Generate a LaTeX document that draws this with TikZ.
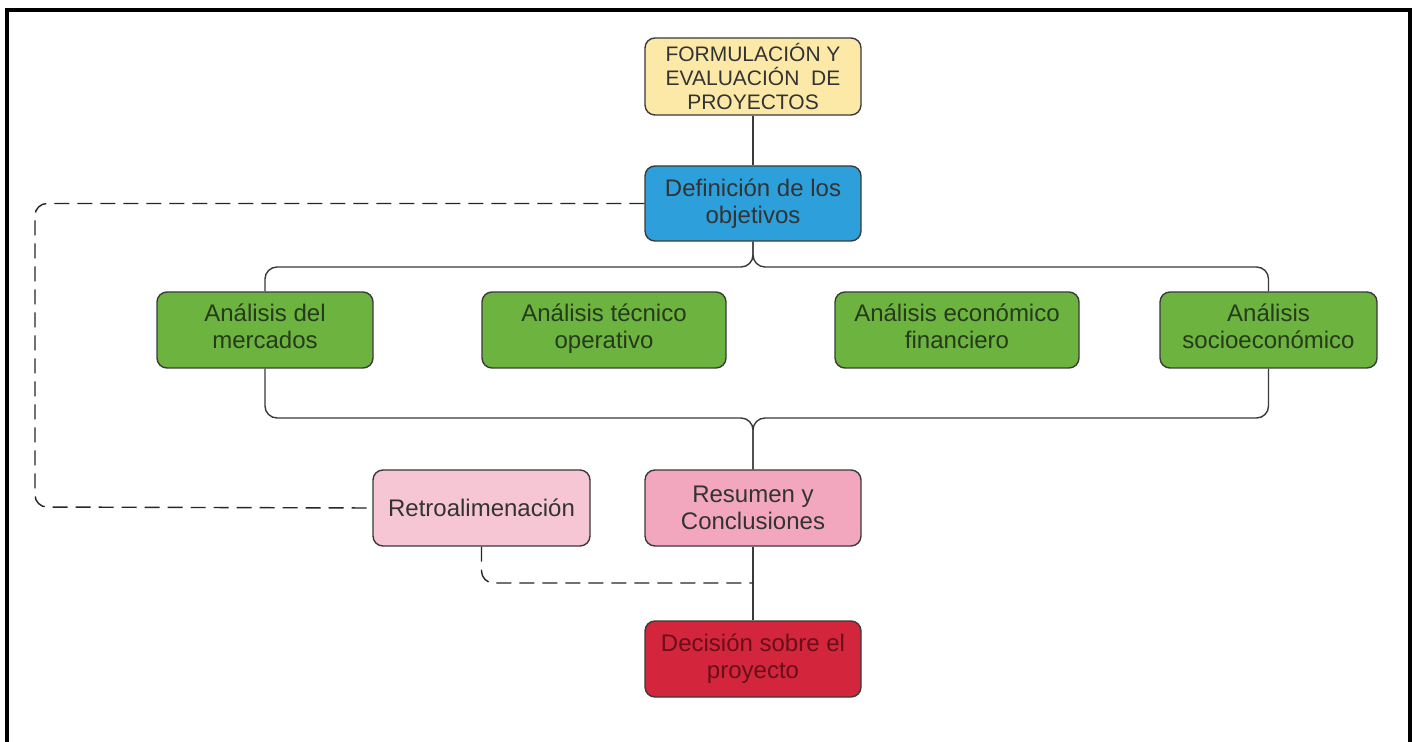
\documentclass[tikz,border=0pt]{standalone}
\usepackage{fontspec}
\setmainfont{Liberation Sans}
\definecolor{cyellow}{HTML}{FCE9A8}
\definecolor{cblue}{HTML}{2D9FDA}
\definecolor{cgreen}{HTML}{6CB33F}
\definecolor{clpink}{HTML}{F7C6D4}
\definecolor{cpink}{HTML}{F2A7BF}
\definecolor{cred}{HTML}{D3253C}
\definecolor{ctext}{HTML}{333333}
\definecolor{cgtext}{HTML}{263A1C}
\definecolor{crtext}{HTML}{6A0F1A}
\definecolor{cborder}{HTML}{3A3A3A}
\begin{document}
\begin{tikzpicture}[x=0.5pt,y=-0.5pt,
  box/.style={draw=cborder, line width=0.7pt, rounded corners=5pt, align=center,
    minimum height=38pt, inner sep=2pt, text=ctext,
    font=\fontsize{12}{13.5}\selectfont},
  link/.style={draw=cborder, line width=0.7pt, rounded corners=6pt},
  fb/.style={draw=black!85, line width=0.7pt, dash pattern=on 7.5pt off 4pt, rounded corners=6pt}]
\useasboundingbox (0,0) rectangle (1416,742);
\clip (0,0) rectangle (1416,742);
\fill[white] (0,0) rectangle (1416,742);
\draw[line width=1.6pt] (7,760) -- (7,10) -- (1410,10) -- (1410,760);

\node[box, fill=cyellow, minimum width=108pt, minimum height=38.5pt,
  font=\fontsize{10.5}{12.2}\selectfont] (F) at (753,76.5) {FORMULACIÓN Y\\EVALUACIÓN\ \ DE\\PROYECTOS};
\node[box, fill=cblue, minimum width=108pt, minimum height=37.5pt] (D) at (753,203.5) {Definición de los\\objetivos};
\node[box, fill=cgreen, text=cgtext, minimum width=108pt] (M) at (265,330) {\strut Análisis del\\\strut mercados};
\node[box, fill=cgreen, text=cgtext, minimum width=122pt] (T) at (604,330) {\strut Análisis técnico\\\strut operativo};
\node[box, fill=cgreen, text=cgtext, minimum width=122pt] (E) at (957,330) {\strut Análisis económico\\\strut financiero};
\node[box, fill=cgreen, text=cgtext, minimum width=108.5pt] (S) at (1268.5,330) {\strut Análisis\\\strut socioeconómico};
\node[box, fill=clpink, minimum width=108.5pt] (R) at (481.5,508) {Retroalimenación};
\node[box, fill=cpink, minimum width=108pt] (C) at (753,508) {Resumen y\\Conclusiones};
\node[box, fill=cred, text=crtext, minimum width=108pt] (X) at (753,659) {Decisión sobre el\\proyecto};

\coordinate (top) at (753,267);
\coordinate (bot) at (753,418);
\coordinate (fbc) at (35,507);
\coordinate (j) at (753,583);

\draw[link] (F) -- (D);
\draw[link] (D.south) -- (top) -| (M.north);
\draw[link] (D.south) -- (top) -| (S.north);
\draw[link] (M.south) |- (bot) -- (C.north);
\draw[link] (S.south) |- (bot) -- (C.north);
\draw[link] (C) -- (X);

\draw[fb] (D.west) -| (fbc) -- (R.west);
\draw[fb] (R.south) |- (j);
\end{tikzpicture}
\end{document}
